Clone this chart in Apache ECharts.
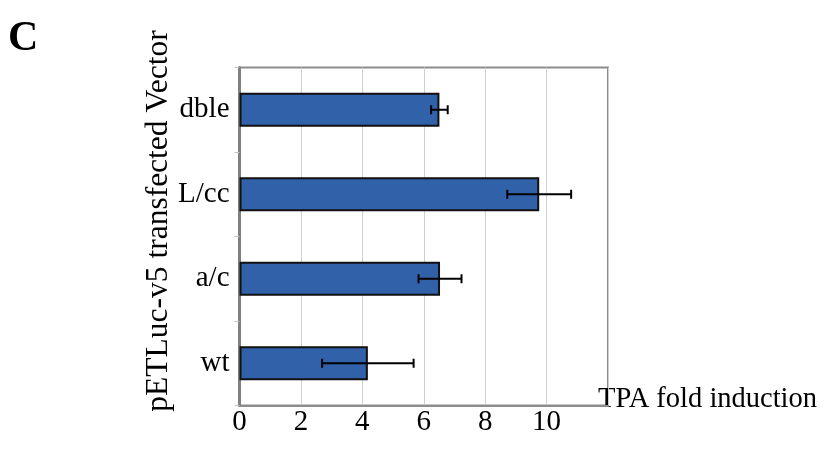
<!DOCTYPE html>
<html>
<head>
<meta charset="utf-8">
<script src="https://cdn.jsdelivr.net/npm/echarts@6/dist/echarts.min.js"></script>
<style>
  html, body { margin: 0; padding: 0; background: #ffffff; }
  #chart { width: 827px; height: 451px; }
</style>
</head>
<body>
<div id="chart"></div>
<script>
// Vectors transfected with pETLuc-v5, bottom to top
var categories = ['wt', 'a/c', 'L/cc', 'dble'];
// Mean TPA fold induction for each vector
var foldInduction = [4.18, 6.53, 9.76, 6.51];
// Error (± deviation) for each vector
var foldError = [1.49, 0.70, 1.04, 0.27];
// Value axis tick labels
var xTicks = [0, 2, 4, 6, 8, 10, 12];

var serif = '"Liberation Serif", "DejaVu Serif", serif';

var errorData = categories.map(function (c, i) {
  return [i, foldInduction[i] - foldError[i], foldInduction[i] + foldError[i]];
});

var chart = echarts.init(document.getElementById('chart'), null, { renderer: 'canvas' });

chart.setOption({
  animation: false,
  backgroundColor: '#ffffff',
  grid: {
    left: 239.5, right: 219, top: 67.5, bottom: 45.5,
    show: true, borderColor: '#8c8c8c', borderWidth: 2, backgroundColor: 'transparent'
  },
  xAxis: {
    type: 'value',
    min: xTicks[0],
    max: xTicks[xTicks.length - 1],
    interval: 2,
    axisLine: { show: true, lineStyle: { color: '#8c8c8c', width: 2 } },
    axisTick: { show: false },
    splitLine: { show: true, lineStyle: { color: '#cfcfcf', width: 1 } },
    axisLabel: {
      showMaxLabel: false,
      margin: 2,
      color: '#000',
      fontFamily: serif,
      fontSize: 29
    }
  },
  yAxis: {
    type: 'category',
    data: categories,
    axisLine: { show: true, lineStyle: { color: '#808080', width: 3 } },
    axisTick: { show: true, length: 5, lineStyle: { color: '#c0c0c0', width: 1 } },
    splitLine: { show: false },
    axisLabel: {
      margin: 10,
      color: '#000',
      fontFamily: serif,
      fontSize: 29
    }
  },
  graphic: [
    {
      type: 'text', left: 8, top: 18,
      style: { text: 'C', fill: '#000', font: 'bold 42px ' + serif }
    },
    {
      type: 'text', x: 159, y: 221, rotation: Math.PI / 2,
      style: {
        text: 'pETLuc-v5 transfected Vector', fill: '#000',
        font: '31.5px ' + serif, align: 'center', verticalAlign: 'middle'
      }
    },
    {
      type: 'text', left: 598, top: 385,
      style: { text: 'TPA fold induction', fill: '#000', font: '28.5px ' + serif }
    }
  ],
  series: [
    {
      type: 'bar',
      data: foldInduction,
      barWidth: 34,
      itemStyle: { color: '#3161a9', borderColor: '#111', borderWidth: 2 },
      z: 2
    },
    {
      type: 'custom',
      data: errorData,
      z: 3,
      renderItem: function (params, api) {
        var lo = api.coord([api.value(1), api.value(0)]);
        var hi = api.coord([api.value(2), api.value(0)]);
        var cap = 4.5;
        var style = { stroke: '#000', lineWidth: 2 };
        return {
          type: 'group',
          children: [
            { type: 'line', shape: { x1: lo[0], y1: lo[1], x2: hi[0], y2: hi[1] }, style: style },
            { type: 'line', shape: { x1: lo[0], y1: lo[1] - cap, x2: lo[0], y2: lo[1] + cap }, style: style },
            { type: 'line', shape: { x1: hi[0], y1: hi[1] - cap, x2: hi[0], y2: hi[1] + cap }, style: style }
          ]
        };
      }
    }
  ]
});
</script>
</body>
</html>
